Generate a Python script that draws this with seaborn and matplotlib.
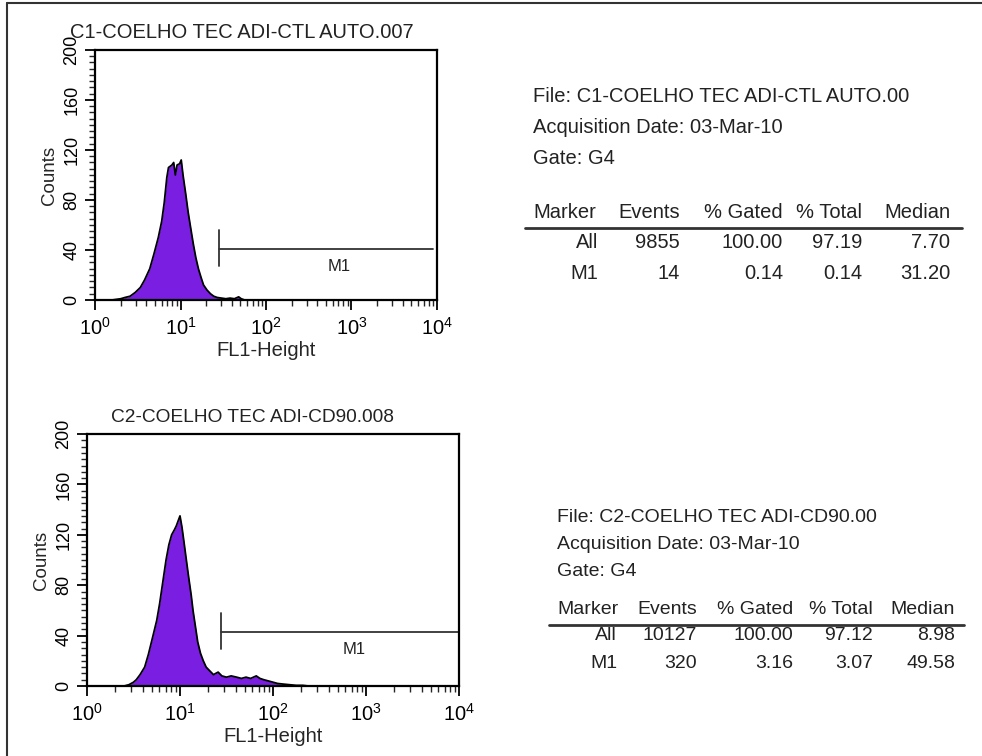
import numpy as np
import pandas as pd
import matplotlib
matplotlib.use('Agg')
import matplotlib.pyplot as plt
from matplotlib.lines import Line2D
from matplotlib.ticker import MultipleLocator, LogLocator, NullFormatter
import seaborn as sns

sns.set_theme(style='ticks')
plt.rcParams['font.family'] = ['Liberation Sans', 'DejaVu Sans']

# ---- histogram data (FL1 value, counts) ----
ctl_fl1 = [1.58, 1.78, 2.0, 2.24, 2.57, 2.95, 3.39, 3.80, 4.37, 4.90, 5.50, 6.03,
           6.46, 6.92, 7.24, 7.59, 7.94, 8.32, 8.71, 9.12, 9.77, 10.2, 10.7, 11.5,
           12.3, 13.2, 14.1, 15.1, 16.2, 17.4, 18.6, 20.4, 22.4, 24.5, 26.9, 30.2,
           33.9, 38.0, 42.7, 47.9, 51.3, 56.2]
ctl_counts = [0, 0.5, 1, 2, 3, 6, 10, 16, 25, 37, 50, 63,
              78, 98, 106, 107, 108, 110, 100, 108, 109, 112, 100, 85,
              70, 57, 45, 34, 25, 18, 12, 8, 5, 3, 2, 1.5,
              1, 1.5, 1, 2.5, 1, 0]

cd90_fl1 = [2.51, 2.82, 3.16, 3.39, 3.72, 4.17, 4.57, 5.13, 5.62, 6.03, 6.61, 7.08,
            7.59, 8.13, 8.71, 9.12, 9.55, 10.0, 10.5, 11.0, 11.7, 12.3, 13.2, 13.8,
            14.8, 15.5, 16.6, 17.8, 19.1, 20.9, 22.9, 25.7, 28.2, 31.6, 35.5, 40.7,
            45.7, 51.3, 57.5, 66.1, 72.4, 79.4, 89.1, 100, 112, 129, 151, 178, 209, 240]
cd90_counts = [0, 1, 3, 5, 9, 15, 25, 40, 52, 65, 85, 100,
               112, 120, 124, 127, 131, 135, 126, 115, 100, 88, 72, 60,
               45, 35, 26, 20, 15, 12, 9, 11, 8, 7, 8, 7,
               6, 7, 6, 8, 6, 5, 4, 3, 2, 1.5, 1, 0.5, 0.5, 0]

# ---- M1 gate ----
ctl_m1 = (28, 9100, 41)      # start, end, level
cd90_m1 = (27.5, 10000, 43)

# ---- stats tables ----
columns = ['Marker', 'Events', '% Gated', '% Total', 'Median']
ctl_rows = [['All', '9855', '100.00', '97.19', '7.70'],
            ['M1', '14', '0.14', '0.14', '31.20']]
cd90_rows = [['All', '10127', '100.00', '97.12', '8.98'],
             ['M1', '320', '3.16', '3.07', '49.58']]

ctl_info = ['File: C1-COELHO TEC ADI-CTL AUTO.00', 'Acquisition Date: 03-Mar-10', 'Gate: G4']
cd90_info = ['File: C2-COELHO TEC ADI-CD90.00', 'Acquisition Date: 03-Mar-10', 'Gate: G4']

FILL = '#7A1FE2'
TXT = '#222222'
W, H = 982, 756

fig = plt.figure(figsize=(9.82, 7.56), dpi=100)


def px(x, y):
    return x / W, 1 - y / H


def histo(ax, fl1, counts, gate, title, title_x, title_fs):
    df = pd.DataFrame({'FL1': fl1, 'Counts': counts})
    ax.fill_between(df['FL1'], df['Counts'], color=FILL, lw=0)
    sns.lineplot(data=df, x='FL1', y='Counts', ax=ax, color='black', lw=1.3)
    start, end, level = gate
    ax.plot([start, end], [level, level], color='#333333', lw=1.3)
    ax.plot([start, start], [level - 14, level + 15], color='#333333', lw=1.3)
    ax.text(10 ** ((np.log10(start) + np.log10(end)) / 2 + 0.15), level - 14, 'M1',
            ha='center', va='center', fontsize=12, color=TXT)
    ax.set_xscale('log')
    ax.set_xlim(1, 10000)
    ax.set_ylim(0, 200)
    ax.yaxis.set_major_locator(MultipleLocator(40))
    ax.yaxis.set_minor_locator(MultipleLocator(5))
    ax.xaxis.set_major_locator(LogLocator(base=10, numticks=10))
    ax.xaxis.set_minor_locator(LogLocator(base=10, subs=np.arange(2, 10), numticks=10))
    ax.xaxis.set_minor_formatter(NullFormatter())
    ax.tick_params(axis='both', which='major', direction='out', length=7, width=1.3,
                   colors='black')
    ax.tick_params(axis='x', which='major', labelsize=14.5, pad=5)
    ax.tick_params(axis='y', which='major', labelsize=13, labelrotation=90)
    ax.tick_params(axis='both', which='minor', direction='out', length=4, width=1.0)
    for lab in ax.get_yticklabels():
        lab.set_va('center')
    for sp in ax.spines.values():
        sp.set_linewidth(1.6)
        sp.set_color('black')
    ax.set_xlabel('FL1-Height', fontsize=14.5, labelpad=2)
    ax.set_ylabel('Counts', fontsize=13.5, labelpad=4)
    ax.text(title_x, 1.03, title, transform=ax.transAxes, ha='center', va='bottom',
            fontsize=title_fs, color=TXT)


def table(info, rows, x0, y0, dy, yh, col_right, line, row_y, fs):
    for i, s in enumerate(info):
        fig.text(*px(x0, y0 + i * dy), s, ha='left', va='center', fontsize=fs, color=TXT)
    for j, c in enumerate(columns):
        if j == 0:
            fig.text(*px(x0, yh), c, ha='left', va='center', fontsize=fs, color=TXT)
        else:
            fig.text(*px(col_right[j], yh), c, ha='right', va='center', fontsize=fs, color=TXT)
    fig.add_artist(Line2D([line[0] / W, line[1] / W], [1 - line[2] / H] * 2,
                          color='#333333', lw=2))
    for r, row in enumerate(rows):
        for j, v in enumerate(row):
            fig.text(*px(col_right[j], row_y[r]), v, ha='right', va='center', fontsize=fs,
                     color=TXT)


ax1 = fig.add_axes([95 / W, 1 - 300 / H, 342 / W, 250 / H])
histo(ax1, ctl_fl1, ctl_counts, ctl_m1, 'C1-COELHO TEC ADI-CTL AUTO.007', 0.43, 14.5)

ax2 = fig.add_axes([87 / W, 1 - 686 / H, 372 / W, 252 / H])
histo(ax2, cd90_fl1, cd90_counts, cd90_m1, 'C2-COELHO TEC ADI-CD90.008', 0.446, 13.8)

table(ctl_info, ctl_rows, 533, 97, 30.5, 212, [598, 680, 783, 862, 950],
      (525, 962, 228), [242, 273], 14.5)
table(cd90_info, cd90_rows, 557, 518, 26.5, 610, [617, 697, 793, 873, 955],
      (549, 964, 625), [636, 663], 14)

# outer frame lines (left and top)
fig.add_artist(Line2D([7 / W, 7 / W], [0, 1 - 3 / H], color='#333333', lw=1.5))
fig.add_artist(Line2D([7 / W, 1], [1 - 3 / H, 1 - 3 / H], color='#333333', lw=1.5))

fig.savefig('out.png', dpi=100)
